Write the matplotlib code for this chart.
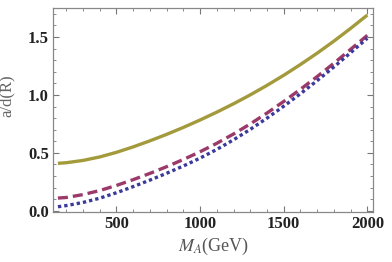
import matplotlib.pyplot as plt
from matplotlib.ticker import MultipleLocator

m_a = [150, 200, 300, 400, 500, 600, 700, 800, 900, 1000,
       1100, 1200, 1300, 1400, 1500, 1600, 1700, 1800, 1900, 2000]
gold = [0.41, 0.415, 0.435, 0.465, 0.505, 0.552, 0.604, 0.66, 0.72, 0.784,
        0.852, 0.924, 1.001, 1.083, 1.17, 1.263, 1.361, 1.465, 1.575, 1.69]
purple = [0.11, 0.115, 0.14, 0.175, 0.219, 0.269, 0.323, 0.381, 0.443, 0.51,
          0.583, 0.663, 0.75, 0.844, 0.944, 1.049, 1.159, 1.274, 1.394, 1.515]
blue = [0.035, 0.045, 0.072, 0.109, 0.156, 0.209, 0.265, 0.324, 0.387, 0.455,
        0.53, 0.613, 0.703, 0.8, 0.903, 1.011, 1.124, 1.242, 1.365, 1.49]

plt.rcParams['font.family'] = ['Liberation Serif', 'DejaVu Serif']
plt.rcParams['mathtext.fontset'] = 'stix'

fig = plt.figure(figsize=(3.92, 2.62), dpi=100)
ax = fig.add_axes([0.135, 0.191, 0.817, 0.778])

ax.plot(m_a, gold, color='#a39a3c', lw=2.4, solid_capstyle='butt')
ax.plot(m_a, purple, color='#9b3a6a', lw=2.4, dashes=(3, 1.5))
ax.plot(m_a, blue, color='#3a3a9c', lw=2.4, dashes=(1, 0.9))

ax.set_xlim(120, 2035)
ax.set_ylim(-0.01, 1.75)
ax.xaxis.set_major_locator(MultipleLocator(500))
ax.xaxis.set_minor_locator(MultipleLocator(100))
ax.yaxis.set_major_locator(MultipleLocator(0.5))
ax.yaxis.set_minor_locator(MultipleLocator(0.1))
ax.yaxis.set_major_formatter(plt.FormatStrFormatter('%.1f'))

for s in ax.spines.values():
    s.set_color('#888888')
    s.set_linewidth(0.9)
ax.tick_params(which='both', direction='in', top=True, right=True, color='#777777')
ax.tick_params(which='major', length=4, width=0.8, labelsize=12, pad=3)
ax.tick_params(which='minor', length=2, width=0.6)
for lab in ax.get_xticklabels() + ax.get_yticklabels():
    lab.set_fontweight('bold')
    lab.set_color('#222222')

ax.set_ylabel('a/d(R)', fontsize=12, color='#666666')
ax.yaxis.set_label_coords(-0.12, 0.57)
ax.set_xlabel('$M_A$(GeV)', fontsize=13, color='#555555', labelpad=3)

fig.savefig('out.png', dpi=100)
